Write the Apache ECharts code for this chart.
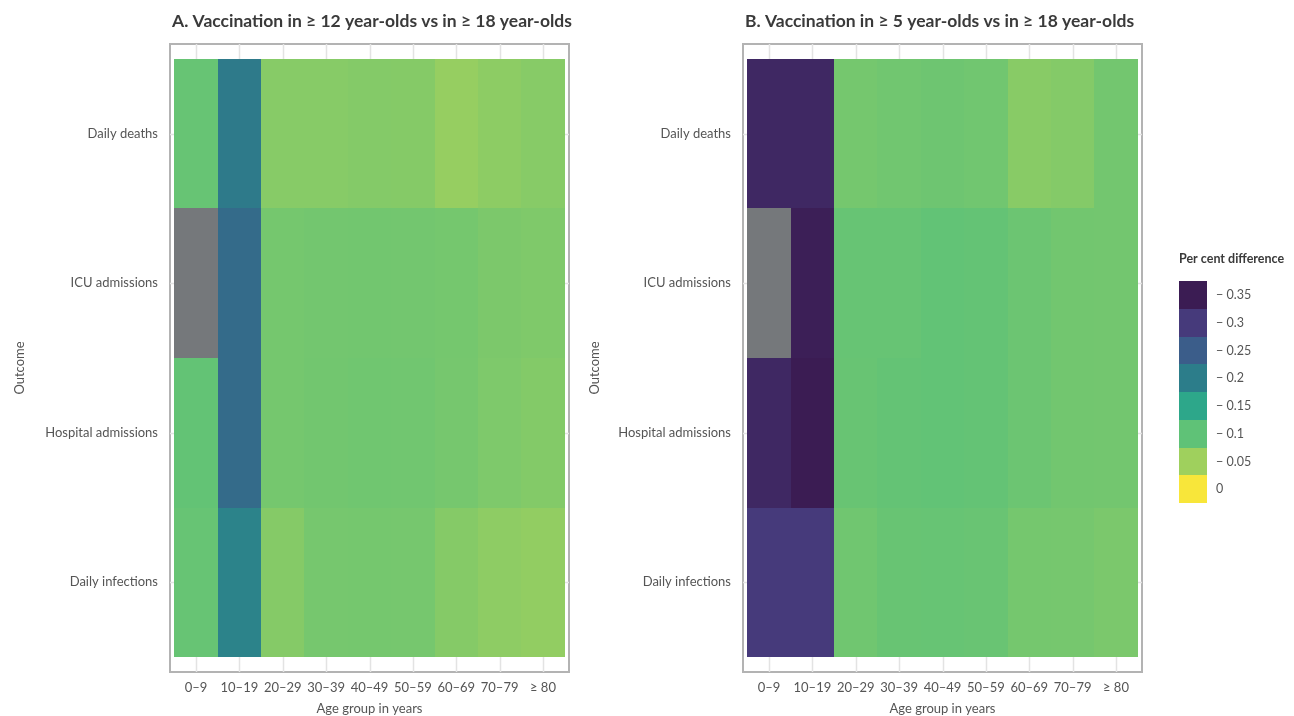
<!DOCTYPE html>
<html>
<head>
<meta charset="utf-8">
<script src="https://cdn.jsdelivr.net/npm/echarts@6/dist/echarts.min.js"></script>
<style>
  html, body { margin: 0; padding: 0; background: #ffffff; }
  #chart { width: 1294px; height: 716px; }
</style>
</head>
<body>
<div id="chart"></div>
<script>
// Categories
const ageGroups = ['0–9', '10–19', '20–29', '30–39', '40–49', '50–59', '60–69', '70–79', '≥ 80'];
const outcomes = ['Daily deaths', 'ICU admissions', 'Hospital admissions', 'Daily infections'];

// A. Vaccination in ≥ 12 year-olds vs in ≥ 18 year-olds (null = no estimate)
const deathsA     = [-0.094, -0.205, -0.069, -0.069, -0.071, -0.070, -0.057, -0.064, -0.069];
const icuA        = [null,   -0.228, -0.083, -0.084, -0.085, -0.084, -0.083, -0.077, -0.075];
const hospitalA   = [-0.097, -0.228, -0.083, -0.085, -0.087, -0.086, -0.082, -0.076, -0.072];
const infectionsA = [-0.094, -0.193, -0.070, -0.082, -0.083, -0.082, -0.070, -0.063, -0.060];

// B. Vaccination in ≥ 5 year-olds vs in ≥ 18 year-olds
const deathsB     = [-0.330, -0.330, -0.083, -0.086, -0.088, -0.086, -0.068, -0.071, -0.084];
const icuB        = [null,   -0.345, -0.094, -0.094, -0.098, -0.096, -0.090, -0.085, -0.084];
const hospitalB   = [-0.330, -0.350, -0.093, -0.096, -0.098, -0.096, -0.090, -0.085, -0.084];
const infectionsB = [-0.300, -0.300, -0.087, -0.093, -0.094, -0.092, -0.083, -0.082, -0.078];

// Colour scale breaks (legend) and colours, darkest first
const legendBreaks = [-0.35, -0.3, -0.25, -0.2, -0.15, -0.1, -0.05, 0];
const scaleColors = ['#3b1c53', '#463a7b', '#3b5d8a', '#2c7d8a', '#2da78a', '#5fc277', '#9fd05d', '#f8e63a'];
const naColor = '#75787b';

const FONT = 'Lato, "Open Sans", sans-serif';
const TEXT = '#555555';
const FRAME = '#b3b3b3';
const GRIDLINE = '#e3e3e3';

const panels = [
  { title: 'A. Vaccination in ≥ 12 year-olds vs in ≥ 18 year-olds', left: 170, rows: [deathsA, icuA, hospitalA, infectionsA] },
  { title: 'B. Vaccination in ≥ 5 year-olds vs in ≥ 18 year-olds', left: 743, rows: [deathsB, icuB, hospitalB, infectionsB] }
];
const GRID_TOP = 44, GRID_W = 399, GRID_H = 628;

function tileCells(rows, wantMissing) {
  const out = [];
  rows.forEach((row, y) => row.forEach((v, x) => {
    if ((v === null) === wantMissing) out.push([x, y, v === null ? 0 : v]);
  }));
  return out;
}

function tileRect(api) {
  const x = api.value(0), y = api.value(1);
  const p0 = api.coord([x - 0.5, y - 0.5]);
  const p1 = api.coord([x + 0.5, y + 0.5]);
  const x0 = Math.round(Math.min(p0[0], p1[0])), x1 = Math.round(Math.max(p0[0], p1[0]));
  const y0 = Math.round(Math.min(p0[1], p1[1])), y1 = Math.round(Math.max(p0[1], p1[1]));
  return { x: x0, y: y0, width: x1 - x0, height: y1 - y0 };
}

const grids = [], xAxes = [], yAxes = [], series = [], titles = [], tileSeries = [];

panels.forEach((p, k) => {
  grids.push({ left: p.left, top: GRID_TOP, width: GRID_W, height: GRID_H, show: true,
               outerBoundsMode: 'none', containLabel: false,
               borderColor: FRAME, borderWidth: 2, backgroundColor: 'transparent' });
  titles.push({ text: p.title, left: p.left - 3, top: 7,
                textStyle: { fontFamily: FONT, fontSize: 17.5, fontWeight: 'bold', color: '#3a3a3a' } });
  const xIdx = ageGroups.map((_, i) => i);
  const yIdx = outcomes.map((_, i) => i);
  xAxes.push({
    gridIndex: k, type: 'value', min: -0.6, max: 8.6,
    axisLine: { show: false },
    axisTick: { show: true, customValues: xIdx, length: 5, lineStyle: { color: FRAME, width: 1 } },
    axisLabel: { customValues: xIdx, formatter: v => ageGroups[Math.round(v)], fontFamily: FONT,
                 fontSize: 13, color: TEXT, margin: 9 },
    splitLine: { show: false },
    name: 'Age group in years', nameLocation: 'middle', nameGap: 30,
    nameTextStyle: { fontFamily: FONT, fontSize: 13, color: TEXT }
  });
  yAxes.push({
    gridIndex: k, type: 'value', min: -0.6, max: 3.6, inverse: true,
    axisLine: { show: false },
    axisTick: { show: true, customValues: yIdx, length: 5, lineStyle: { color: FRAME, width: 1 } },
    axisLabel: { customValues: yIdx, formatter: v => outcomes[Math.round(v)], fontFamily: FONT,
                 fontSize: 13, color: TEXT, margin: 12 },
    splitLine: { show: false }
  });
  // light gridlines at category centres
  series.push({
    type: 'custom', xAxisIndex: k, yAxisIndex: k, silent: true, z: 1,
    data: xIdx.map(i => [i, 0]),
    renderItem: (params, api) => {
      const a = api.coord([api.value(0), -0.6]), b = api.coord([api.value(0), 3.6]);
      const x = Math.round(a[0]) + 0.5;
      return { type: 'line', shape: { x1: x, y1: a[1], x2: x, y2: b[1] }, style: { stroke: GRIDLINE, lineWidth: 1.5 } };
    }
  });
  series.push({
    type: 'custom', xAxisIndex: k, yAxisIndex: k, silent: true, z: 1,
    data: yIdx.map(j => [0, j]),
    renderItem: (params, api) => {
      const a = api.coord([-0.6, api.value(1)]), b = api.coord([8.6, api.value(1)]);
      const y = Math.round(a[1]) + 0.5;
      return { type: 'line', shape: { x1: a[0], y1: y, x2: b[0], y2: y }, style: { stroke: GRIDLINE, lineWidth: 1.5 } };
    }
  });
  // tiles with estimates
  tileSeries.push(series.length);
  series.push({
    type: 'custom', xAxisIndex: k, yAxisIndex: k, z: 2,
    encode: { x: 0, y: 1 },
    data: tileCells(p.rows, false),
    renderItem: (params, api) => ({ type: 'rect', shape: tileRect(api), style: { fill: api.visual('color') } })
  });
  // tiles without an estimate
  series.push({
    type: 'custom', xAxisIndex: k, yAxisIndex: k, z: 2,
    encode: { x: 0, y: 1 },
    data: tileCells(p.rows, true),
    renderItem: (params, api) => ({ type: 'rect', shape: tileRect(api), style: { fill: naColor } })
  });
});

// Outcome axis titles and the stepped colour legend
const graphics = [];
[[20, 368], [595, 368]].forEach(([x, y]) => graphics.push({
  type: 'text', x: x, y: y, rotation: Math.PI / 2,
  style: { text: 'Outcome', fontFamily: FONT, fontSize: 13, fill: TEXT, align: 'center', verticalAlign: 'middle' }
}));
graphics.push({
  type: 'text', x: 1179, y: 259,
  style: { text: 'Per cent difference', fontFamily: FONT, fontSize: 12.5, fontWeight: 'bold', fill: '#3a3a3a', verticalAlign: 'middle' }
});
const LEG_X = 1179, LEG_Y = 281, LEG_W = 28, LEG_STEP = 27.75;
legendBreaks.forEach((b, i) => {
  const y0 = Math.round(LEG_Y + i * LEG_STEP), y1 = Math.round(LEG_Y + (i + 1) * LEG_STEP);
  graphics.push({ type: 'rect', shape: { x: LEG_X, y: y0, width: LEG_W, height: y1 - y0 }, style: { fill: scaleColors[i] } });
  graphics.push({
    type: 'text', x: 1216, y: (y0 + y1) / 2,
    style: { text: b < 0 ? '− ' + Math.abs(b) : String(b), fontFamily: FONT, fontSize: 12.5, fill: TEXT, verticalAlign: 'middle' }
  });
});

const chart = echarts.init(document.getElementById('chart'), null, { renderer: 'canvas' });
chart.setOption({
  animation: false,
  backgroundColor: '#ffffff',
  title: titles,
  grid: grids,
  xAxis: xAxes,
  yAxis: yAxes,
  visualMap: [{
    type: 'continuous', show: false, min: -0.35, max: 0, dimension: 2,
    seriesIndex: tileSeries, inRange: { color: scaleColors }
  }],
  series: series,
  graphic: graphics
});
</script>
</body>
</html>
